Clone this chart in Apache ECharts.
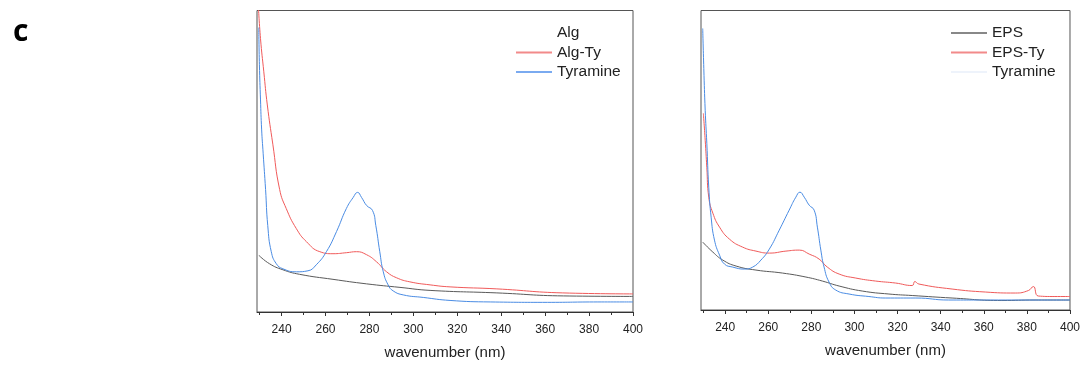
<!DOCTYPE html>
<html>
<head>
<meta charset="utf-8">
<script src="https://cdn.jsdelivr.net/npm/echarts@6/dist/echarts.min.js"></script>
<style>
html,body{margin:0;padding:0;background:#fff;}
#chart{width:1083px;height:365px;}
</style>
</head>
<body>
<div id="chart"></div>
<script>
// ---- tick labels ----
const majorTicks = [240, 260, 280, 300, 320, 340, 360, 380, 400];
const minorTicks = [230, 250, 270, 290, 310, 330, 350, 370, 390];

// ---- left panel ----
const algX = [229.6, 234.5, 240.6, 248.2, 263.4, 278.7, 293.9, 307.6, 338, 368.3, 400];
const algY = [0.565, 0.48, 0.42, 0.375, 0.325, 0.28, 0.245, 0.215, 0.19, 0.16, 0.155];

const algTyX = [229.4, 230.4, 231.9, 233.5, 236.0, 239.1, 242.1, 246.7, 251.3, 257.4, 263.4, 269.5, 274.1, 278.7, 283.2, 287.8, 292.4, 298.4, 307.6, 316.7, 338, 368, 400];
const algTyY = [3.05, 2.72, 2.39, 2.06, 1.67, 1.22, 1.03, 0.83, 0.70, 0.60, 0.58, 0.59, 0.60, 0.57, 0.50, 0.40, 0.34, 0.30, 0.27, 0.25, 0.23, 0.19, 0.18];

const tyrLX = [229.6, 229.9, 230.4, 230.9, 231.6, 232.7, 233.7, 235.3, 237.6, 240.6, 246.7, 252.0, 255.8, 260.4, 265.0, 269.5, 272.6, 274.6, 276.4, 278.7, 281.4, 282.9, 284.7, 286.3, 288.5, 290.8, 295.4, 304.5, 316.7, 335, 361, 384, 400];
const tyrLY = [2.83, 2.46, 2.11, 1.82, 1.58, 1.22, 0.86, 0.60, 0.48, 0.43, 0.40, 0.41, 0.47, 0.60, 0.80, 1.03, 1.14, 1.19, 1.14, 1.06, 1.01, 0.86, 0.60, 0.40, 0.27, 0.21, 0.17, 0.145, 0.115, 0.10, 0.096, 0.10, 0.10];

// ---- right panel ----
const epsX = [229.6, 234.3, 238.9, 245.1, 254.3, 266.6, 277.5, 285.1, 292.9, 303.6, 316.0, 326.8, 345.3, 368.4, 383.8, 400];
const epsY = [0.68, 0.58, 0.50, 0.44, 0.40, 0.37, 0.33, 0.29, 0.24, 0.19, 0.16, 0.145, 0.12, 0.095, 0.10, 0.10];

const epsTyX = [229.9, 230.75, 231.5, 232.4, 234.3, 237.4, 242.0, 248.1, 254.3, 260.5, 268.2, 274.4, 279.0, 283.6, 287.4, 292.9, 300.6, 309.8, 319.1, 326.8, 328.0, 329.9, 345.3, 360.7, 374.6, 380.7, 383.0, 385.3, 393.0, 400];
const epsTyY = [1.97, 1.70, 1.43, 1.13, 0.97, 0.83, 0.71, 0.63, 0.59, 0.57, 0.59, 0.60, 0.56, 0.51, 0.43, 0.36, 0.32, 0.29, 0.27, 0.245, 0.285, 0.26, 0.21, 0.18, 0.17, 0.195, 0.235, 0.14, 0.135, 0.135];

const tyrRX = [229.6, 230.1, 230.75, 231.5, 232.4, 233.5, 235.05, 237.4, 239.7, 243.5, 248.9, 252.8, 256.6, 260.5, 265.1, 269.7, 272.8, 274.7, 276.7, 279.0, 281.3, 282.8, 284.4, 285.9, 288.2, 291.3, 297.5, 306.7, 314.5, 328.5, 343.7, 366.8, 400];
const tyrRY = [2.82, 2.42, 2.00, 1.67, 1.23, 0.93, 0.70, 0.55, 0.46, 0.43, 0.41, 0.43, 0.50, 0.61, 0.80, 1.00, 1.13, 1.18, 1.13, 1.05, 1.00, 0.83, 0.60, 0.43, 0.28, 0.20, 0.16, 0.135, 0.12, 0.12, 0.10, 0.10, 0.10];

const pairs = (xs, ys) => xs.map((x, i) => [x, ys[i]]);

const FONT = '"Liberation Sans", Arial, sans-serif';
const RED = '#f05a5a', BLUE = '#4a8ce4', GRAY = '#5a5a5a';

function xAxesFor(gridIndex) {
  return [
    {
      type: 'value', gridIndex, min: 228.8, max: 400,
      axisLine: { show: true, lineStyle: { color: '#333', width: 1 } },
      axisTick: { show: true, customValues: majorTicks, length: 4, lineStyle: { color: '#333' } },
      axisLabel: { show: true, customValues: majorTicks, color: '#222', fontSize: 12, fontFamily: FONT, margin: 12 },
      splitLine: { show: false },
      name: 'wavenumber (nm)', nameLocation: 'middle', nameGap: 33,
      nameTextStyle: { color: '#222', fontSize: 15, fontFamily: FONT }
    },
    {
      type: 'value', gridIndex, min: 228.8, max: 400, position: 'bottom',
      axisLine: { show: false },
      axisTick: { show: true, customValues: minorTicks, length: 3, lineStyle: { color: '#333' } },
      axisLabel: { show: false },
      splitLine: { show: false }
    }
  ];
}

function lineSeries(name, xi, yi, xs, ys, color) {
  return {
    name, type: 'line', xAxisIndex: xi, yAxisIndex: yi, data: pairs(xs, ys),
    symbol: 'none', smooth: 0.5, clip: true,
    lineStyle: { color, width: 1 }, itemStyle: { color }
  };
}

const legendBase = {
  orient: 'vertical', top: 25, itemWidth: 36, itemHeight: 14, itemGap: 3.5, padding: 0,
  textStyle: { color: '#222', fontSize: 15.5, fontFamily: FONT },
  itemStyle: { opacity: 0 },
  selectedMode: false
};

const chart = echarts.init(document.getElementById('chart'), null, { renderer: 'canvas' });
chart.setOption({
  animation: false,
  backgroundColor: '#ffffff',
  title: {
    text: 'c', left: 8, top: 12,
    textStyle: { fontFamily: '"Open Sans", sans-serif', fontWeight: 'bold', fontSize: 30, color: '#000' }
  },
  grid: [
    { left: 257, top: 10.5, width: 376, height: 303.5, show: true, borderColor: '#555', borderWidth: 1, containLabel: false },
    { left: 701, top: 10.5, width: 371, height: 299.5, show: true, borderColor: '#555', borderWidth: 1, containLabel: false }
  ],
  xAxis: xAxesFor(0).concat(xAxesFor(1)),
  yAxis: [
    { type: 'value', gridIndex: 0, min: 0, max: 3, show: false },
    { type: 'value', gridIndex: 1, min: 0, max: 3, show: false }
  ],
  legend: [
    Object.assign({}, legendBase, {
      left: 515,
      data: [
        { name: 'Alg', lineStyle: { opacity: 0 } },
        { name: 'Alg-Ty', lineStyle: { color: '#f28a8a' } },
        { name: 'Tyramine', lineStyle: { color: '#7aaaf0' } }
      ]
    }),
    Object.assign({}, legendBase, {
      left: 950,
      data: [
        { name: 'EPS', lineStyle: { color: '#888888' } },
        { name: 'EPS-Ty', lineStyle: { color: '#f28a8a' } },
        { name: 'Tyramine', lineStyle: { color: '#eef3fb' } }
      ]
    })
  ],
  series: [
    lineSeries('Alg', 0, 0, algX, algY, GRAY),
    lineSeries('Alg-Ty', 0, 0, algTyX, algTyY, RED),
    lineSeries('Tyramine', 0, 0, tyrLX, tyrLY, BLUE),
    lineSeries('EPS', 2, 1, epsX, epsY, GRAY),
    lineSeries('EPS-Ty', 2, 1, epsTyX, epsTyY, RED),
    lineSeries('Tyramine', 2, 1, tyrRX, tyrRY, BLUE)
  ]
});
</script>
</body>
</html>
